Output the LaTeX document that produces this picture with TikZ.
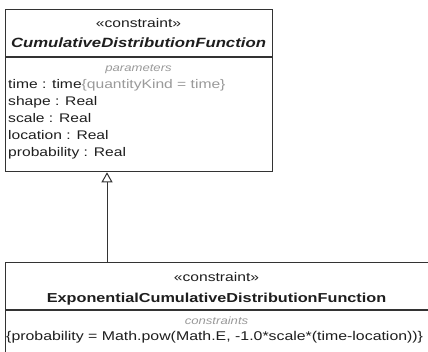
\documentclass[tikz,border=0pt]{standalone}
\usepackage{fontspec}
\setmainfont{Liberation Sans}[FakeStretch=1.25]
\usetikzlibrary{arrows.meta}
\definecolor{ink}{HTML}{1E1E1E}
\definecolor{linec}{HTML}{333333}
\definecolor{soft}{HTML}{9A9A9A}
\begin{document}
\begin{tikzpicture}[x=1pt,y=-1pt,
  umlbox/.style={draw=linec, line width=1.3pt, fill=white, inner sep=0pt, anchor=north west},
  txt/.style={inner sep=0pt, anchor=base, text=ink, font=\fontsize{12.5}{15}\selectfont},
  ltxt/.style={txt, anchor=base west},
  lbl/.style={txt, text=soft, font=\fontsize{10.5}{13}\selectfont\itshape},
  gen/.style={draw=linec, line width=1pt, -{Triangle[open, length=10pt, width=11pt]}}
]
\useasboundingbox (0,0) rectangle (428,352);
\clip (0,0) rectangle (428,352);
\fill[white] (0,0) rectangle (428,352);
% top class
\node[umlbox, minimum width=267pt, minimum height=162pt] (cdf) at (5,9) {};
\draw[draw=linec, line width=1.3pt] (5,57) -- (272,57);
\node[txt] (cdfst) at (138.5,28) {«constraint»};
\node[txt, font=\fontsize{13.4}{15}\selectfont\bfseries\itshape] (cdfname) at (138.5,48) {CumulativeDistributionFunction};
\node[lbl] (cdfpar) at (138.5,71.5) {parameters};
\node[ltxt] (p1) at (8,89) {time : time\textcolor{soft}{\{quantityKind = time\}}};
\node[ltxt] (p2) at (8,106) {shape : Real};
\node[ltxt] (p3) at (8,122.5) {scale : Real};
\node[ltxt] (p4) at (8,139.5) {location : Real};
\node[ltxt] (p5) at (8,156.5) {probability : Real};
% bottom class
\node[umlbox, minimum width=440pt, minimum height=110pt] (ecdf) at (5,262) {};
\draw[draw=linec, line width=1.3pt] (5,310) -- (440,310);
\node[txt] (ecdfst) at (216.5,282) {«constraint»};
\node[txt, font=\fontsize{13}{15}\selectfont\bfseries] (ecdfname) at (216.5,303) {ExponentialCumulativeDistributionFunction};
\node[lbl] (ecdfcon) at (216.5,324.5) {constraints};
\node[ltxt, font=\fontsize{12.7}{15}\selectfont] (c1) at (6,341) {\{probability = Math.pow(Math.E, -1.0*scale*(time-location))\}};
% generalization
\coordinate (gx) at (107,0);
\draw[gen] (ecdf.north west -| gx) -- (cdf.south west -| gx);
\end{tikzpicture}
\end{document}
